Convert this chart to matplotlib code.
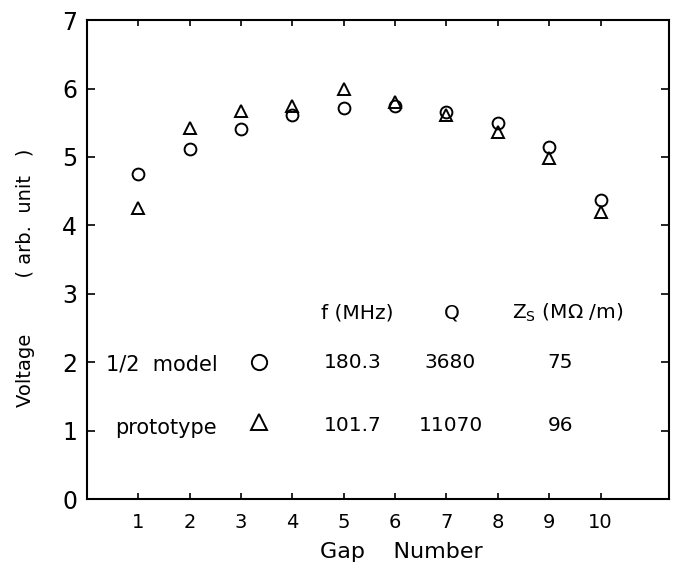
import matplotlib
matplotlib.use("Agg")
import matplotlib.pyplot as plt

# gap numbers and measured voltages
gap = [1, 2, 3, 4, 5, 6, 7, 8, 9, 10]
model_v = [4.75, 5.11, 5.41, 5.61, 5.72, 5.74, 5.66, 5.50, 5.15, 4.37]
proto_v = [4.26, 5.42, 5.67, 5.74, 5.99, 5.81, 5.62, 5.37, 4.98, 4.19]

# table shown inside the plot
rows = ["1/2  model", "prototype"]
freq = ["180.3", "101.7"]
qval = ["3680", "11070"]
zs = ["75", "96"]

plt.rcParams['font.family'] = 'DejaVu Sans'

fig = plt.figure(figsize=(6.79, 5.75), dpi=100)
ax = fig.add_axes([0.128, 0.132, 0.857, 0.833])

ax.plot(gap, model_v, 'o', ms=8.5, mfc='none', mec='black', mew=1.4)
ax.plot(gap, proto_v, '^', ms=8.5, mfc='none', mec='black', mew=1.4)

ax.set_xlim(0, 11.33)
ax.set_ylim(0, 7)
ax.set_xticks(gap)
ax.set_yticks(range(8))

ax.tick_params(axis='x', direction='in', length=4, width=1.2, top=True,
               labelsize=14, pad=10)
ax.tick_params(axis='y', direction='in', length=6, width=1.2, right=True,
               labelsize=17, pad=7)
for s in ax.spines.values():
    s.set_linewidth(1.5)

ax.set_ylabel("Voltage" + " " * 9 + "( arb.  unit   )", fontsize=14)
ax.yaxis.set_label_coords(-0.09, 0.461)
ax.set_xlabel("Gap    Number", fontsize=16)
ax.xaxis.set_label_coords(0.54, -0.09)

# table
fs = 14.5
hy = 2.72
ax.text(5.26, hy, "f (MHz)", ha='center', va='center', fontsize=fs)
ax.text(7.11, hy, "Q", ha='center', va='center', fontsize=fs)
ax.text(9.36, hy, "Z$_\\mathrm{S}$ (MΩ /m)", ha='center', va='center', fontsize=fs)

row_y = [2.0, 1.08]
for i in range(2):
    ax.text(0.37 if i == 0 else 0.55, row_y[i] - 0.04, rows[i],
            ha='left', va='center', fontsize=fs + 0.5)
    ax.text(5.17, row_y[i], freq[i], ha='center', va='center', fontsize=fs)
    ax.text(7.08, row_y[i], qval[i], ha='center', va='center', fontsize=fs)
    ax.text(9.22, row_y[i], zs[i], ha='center', va='center', fontsize=fs)
ax.plot([3.35], [row_y[0]], 'o', ms=11, mfc='none', mec='black', mew=1.4)
ax.plot([3.35], [row_y[1] + 0.04], '^', ms=11, mfc='none', mec='black', mew=1.4)

fig.savefig("out.png", dpi=100)
